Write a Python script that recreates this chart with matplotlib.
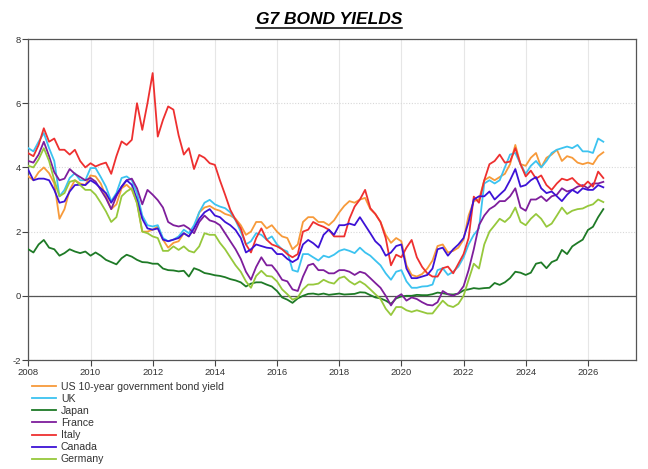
import matplotlib
matplotlib.use("Agg")
import matplotlib.pyplot as plt
import matplotlib.dates as mdates
from matplotlib.lines import Line2D
import pandas as pd
from datetime import datetime

plt.rcParams['font.family'] = ['Liberation Sans', 'DejaVu Sans']
plt.rcParams['axes.unicode_minus'] = False

# bi-monthly observations, Jan 2008 .. Jul 2026
dates = pd.date_range('2008-01-01', periods=112, freq='2MS')

us = [3.72, 3.6, 3.85, 4.0, 3.82, 3.5,
      2.4, 2.7, 3.3, 3.6, 3.5, 3.45,
      3.75, 3.72, 3.5, 3.1, 2.7, 2.85,
      3.35, 3.46, 3.3, 2.9, 2.0, 2.0,
      2.06, 2.16, 1.75, 1.5, 1.65, 1.7,
      1.95, 1.85, 2.1, 2.6, 2.75, 2.8,
      2.7, 2.65, 2.55, 2.5, 2.4, 2.2,
      1.9, 2.0, 2.3, 2.3, 2.1, 2.2,
      2.0, 1.85, 1.8, 1.45, 1.6, 2.3,
      2.45, 2.45, 2.3, 2.3, 2.2, 2.35,
      2.6, 2.8, 2.95, 2.9, 3.0, 3.05,
      2.7, 2.55, 2.3, 1.9, 1.65, 1.8,
      1.7, 0.95, 0.65, 0.6, 0.68, 0.85,
      1.1, 1.55, 1.6, 1.35, 1.4, 1.5,
      1.75, 2.5, 2.95, 3.0, 3.6, 3.7,
      3.6, 3.7, 3.8, 4.1, 4.7, 4.1,
      4.05, 4.3, 4.45, 4.0, 4.3, 4.4,
      4.55, 4.2, 4.35, 4.3, 4.15, 4.1,
      4.15, 4.1, 4.35, 4.47]

uk = [4.6, 4.5, 4.8, 5.07, 4.6, 4.2,
      3.1, 3.3, 3.67, 3.82, 3.6, 3.6,
      3.98, 3.98, 3.7, 3.4, 2.95, 3.2,
      3.67, 3.72, 3.6, 3.2, 2.5, 2.2,
      2.16, 2.2, 1.8, 1.7, 1.75, 1.85,
      2.06, 1.95, 2.2, 2.6, 2.9, 2.99,
      2.85, 2.78, 2.73, 2.6, 2.35, 2.0,
      1.6, 1.7, 1.95, 1.9, 1.75, 1.85,
      1.6, 1.45, 1.38, 0.8, 0.75, 1.3,
      1.3, 1.2, 1.1, 1.25, 1.2, 1.28,
      1.4, 1.45, 1.4, 1.33, 1.5, 1.35,
      1.25, 1.1, 0.95, 0.7, 0.5, 0.75,
      0.8, 0.45, 0.25, 0.25, 0.29, 0.3,
      0.35, 0.8, 0.86, 0.65, 0.75, 0.91,
      1.2, 1.6, 1.9, 2.1, 3.5, 3.6,
      3.5, 3.6, 4.0, 4.4, 4.45, 4.1,
      3.8, 4.05, 4.2, 4.0, 4.2, 4.45,
      4.55, 4.6, 4.65, 4.6, 4.7, 4.5,
      4.5, 4.45, 4.9, 4.8]

japan = [1.45, 1.35, 1.6, 1.74, 1.5, 1.45,
         1.25, 1.33, 1.45, 1.38, 1.33, 1.38,
         1.25, 1.35, 1.25, 1.12, 1.05, 0.98,
         1.17, 1.28, 1.22, 1.12, 1.05, 1.04,
         1.0, 1.0, 0.85, 0.8, 0.79, 0.76,
         0.78, 0.6, 0.86, 0.8, 0.71, 0.68,
         0.64, 0.62, 0.58, 0.52, 0.48, 0.42,
         0.29, 0.38, 0.42, 0.42, 0.35, 0.29,
         0.15, -0.05, -0.12, -0.22, -0.08, 0.0,
         0.06, 0.07, 0.04, 0.07, 0.03, 0.05,
         0.07, 0.04, 0.05, 0.06, 0.11, 0.1,
         0.02, -0.05, -0.08, -0.15, -0.25, -0.08,
         -0.02, 0.0, 0.0, 0.03, 0.02, 0.02,
         0.05, 0.1, 0.08, 0.05, 0.04, 0.07,
         0.17, 0.2, 0.24, 0.22, 0.24, 0.25,
         0.4, 0.34, 0.42, 0.55, 0.75, 0.72,
         0.65, 0.72, 1.0, 1.04, 0.86, 1.05,
         1.12, 1.43, 1.3, 1.54, 1.65, 1.75,
         2.05, 2.15, 2.45, 2.7]

france = [4.2, 4.15, 4.4, 4.8, 4.35, 3.85,
          3.6, 3.65, 3.95, 3.8, 3.7, 3.6,
          3.67, 3.56, 3.3, 3.04, 2.7, 3.1,
          3.4, 3.6, 3.65, 3.35, 2.85, 3.3,
          3.15, 2.98, 2.75, 2.3, 2.2, 2.16,
          2.2, 2.1, 1.95, 2.3, 2.5, 2.35,
          2.3, 2.2, 1.95, 1.7, 1.45, 1.15,
          0.75, 0.5, 0.9, 1.2, 0.95, 0.95,
          0.75, 0.5, 0.45, 0.2, 0.15, 0.6,
          0.95, 1.0, 0.8, 0.8, 0.7, 0.7,
          0.8, 0.8, 0.75, 0.65, 0.75, 0.7,
          0.55, 0.4, 0.25, 0.0, -0.3, -0.05,
          0.05, -0.15, -0.05, -0.1, -0.2, -0.28,
          -0.3, -0.2, 0.15, 0.05, 0.0, 0.08,
          0.3, 0.8, 1.45, 2.2, 2.5, 2.7,
          2.8, 2.95, 2.95, 3.1, 3.35, 2.75,
          2.65, 3.0, 3.0, 3.1, 2.95, 3.1,
          3.15, 3.35, 3.25, 3.3, 3.4, 3.45,
          3.35, 3.5, 3.5, 3.55]

italy = [4.44, 4.35, 4.7, 5.22, 4.8, 4.9,
         4.55, 4.55, 4.4, 4.55, 4.2, 4.0,
         4.13, 4.03, 4.1, 4.15, 3.8, 4.35,
         4.81, 4.7, 4.86, 6.0, 5.17, 6.0,
         6.94, 4.96, 5.48, 5.9, 5.8, 5.0,
         4.4, 4.6, 3.95, 4.39, 4.3, 4.13,
         4.08, 3.6, 3.15, 2.68, 2.37, 2.1,
         1.6, 1.35, 1.8, 2.1, 1.75, 1.6,
         1.54, 1.45, 1.3, 1.2, 1.3, 2.0,
         2.06, 2.3, 2.21, 2.15, 2.06, 1.85,
         1.85, 1.85, 2.4, 2.78, 3.0, 3.3,
         2.73, 2.55, 2.3, 1.8, 0.95, 1.28,
         1.2, 1.5, 1.74, 1.2, 0.9, 0.7,
         0.6, 0.6, 0.86, 0.91, 0.7, 1.0,
         1.3, 1.8, 3.09, 2.9, 3.6, 4.1,
         4.2, 4.4, 4.15, 4.18, 4.6, 4.1,
         3.72, 3.9, 3.65, 3.75, 3.45, 3.3,
         3.5, 3.65, 3.6, 3.67, 3.5, 3.4,
         3.56, 3.4, 3.87, 3.67]

canada = [3.92, 3.6, 3.65, 3.65, 3.6, 3.3,
          2.9, 2.94, 3.25, 3.45, 3.46, 3.45,
          3.6, 3.5, 3.35, 3.2, 2.9, 3.15,
          3.4, 3.6, 3.46, 3.0, 2.4, 2.1,
          2.06, 2.1, 1.75, 1.7, 1.75, 1.8,
          1.95, 1.85, 2.1, 2.4, 2.6, 2.7,
          2.5, 2.45, 2.3, 2.2, 2.05, 1.8,
          1.35, 1.45, 1.6, 1.55, 1.5, 1.48,
          1.3, 1.3, 1.15, 1.05, 1.15, 1.6,
          1.74, 1.64, 1.5, 1.9, 2.06, 1.9,
          2.2, 2.2, 2.25, 2.2, 2.45, 2.2,
          1.95, 1.7, 1.55, 1.25, 1.35, 1.55,
          1.6, 0.85, 0.55, 0.55, 0.6, 0.65,
          0.85, 1.45, 1.5, 1.25, 1.45, 1.6,
          1.8, 2.3, 3.0, 3.1, 3.1, 3.25,
          3.0, 3.15, 3.3, 3.6, 3.95, 3.4,
          3.45, 3.6, 3.7, 3.35, 3.2, 3.25,
          3.1, 2.95, 3.15, 3.3, 3.2, 3.35,
          3.3, 3.3, 3.45, 3.38]

germany = [4.05, 4.0, 4.25, 4.6, 4.2, 3.6,
           3.1, 3.2, 3.55, 3.6, 3.45, 3.3,
           3.3, 3.15, 2.9, 2.63, 2.3, 2.45,
           3.1, 3.25, 3.35, 2.88, 2.0, 1.95,
           1.85, 1.8, 1.4, 1.4, 1.54, 1.43,
           1.54, 1.4, 1.35, 1.54, 1.95, 1.9,
           1.9, 1.65, 1.45, 1.2, 0.95, 0.75,
           0.45, 0.25, 0.62, 0.78, 0.62, 0.6,
           0.45, 0.2, 0.05, -0.12, -0.05, 0.2,
           0.35, 0.35, 0.38, 0.5, 0.42, 0.38,
           0.55, 0.6, 0.45, 0.35, 0.45, 0.35,
           0.2, 0.05, -0.1, -0.4, -0.6, -0.35,
           -0.35, -0.45, -0.5, -0.45, -0.5, -0.55,
           -0.55, -0.35, -0.15, -0.3, -0.35, -0.25,
           0.0, 0.5, 1.0, 0.85, 1.6, 2.0,
           2.2, 2.4, 2.3, 2.45, 2.75, 2.3,
           2.2, 2.4, 2.55, 2.4, 2.15, 2.25,
           2.5, 2.75, 2.55, 2.65, 2.7, 2.72,
           2.8, 2.85, 3.0, 2.92]

series_names = ["US 10-year government bond yield", "UK", "Japan", "France",
                "Italy", "Canada", "Germany"]
series_values = [us, uk, japan, france, italy, canada, germany]
colors = ["#F79A3A", "#3CC3F0", "#1E7A26", "#7E1E9C", "#EE3030", "#3D12D6", "#96C83C"]

y_ticks = [-2, 0, 2, 4, 6, 8]
x_tick_years = list(range(2008, 2027, 2))

fig = plt.figure(figsize=(6.48, 4.69), dpi=100)
ax = fig.add_axes([0.0437, 0.2324, 0.9378, 0.6844])

for name, vals, c in zip(series_names, series_values, colors):
    ax.plot(dates, vals, color=c, lw=1.3, label=name, zorder=3)

ax.axhline(0, color="#555555", lw=0.9, zorder=2)
ax.set_ylim(-2, 8)
ax.set_xlim(datetime(2008, 1, 1), datetime(2027, 7, 20))
ax.set_yticks(y_ticks)
ax.set_xticks([datetime(y, 1, 1) for y in x_tick_years])
ax.xaxis.set_major_formatter(mdates.DateFormatter('%Y'))

ax.grid(axis='x', color="#e6e6e6", lw=0.8, linestyle='-', zorder=0)
ax.grid(axis='y', color="#d8d8d8", lw=0.8, linestyle=(0, (1, 1.5)), zorder=0)

for s in ax.spines.values():
    s.set_color("#555555")
    s.set_linewidth(0.9)
ax.tick_params(axis='both', labelsize=6.8, colors="#444444", length=4, width=0.8, pad=1.5)
for lab in ax.get_xticklabels() + ax.get_yticklabels():
    lab.set_color("#333333")

fig.legend(loc='upper left', bbox_to_anchor=(0.049, 0.186), frameon=False,
           fontsize=7.6, handlelength=2.3, handletextpad=0.45, labelspacing=0.2,
           borderpad=0, borderaxespad=0, labelcolor="#333333")

title = fig.text(0.508, 0.958, "G7 BOND YIELDS", ha='center', va='center',
                 fontsize=12.5, fontweight='bold', fontstyle='italic', color='black')
fig.canvas.draw()
bb = title.get_window_extent().transformed(fig.transFigure.inverted())
fig.add_artist(Line2D([bb.x0, bb.x1], [bb.y0 - 0.002, bb.y0 - 0.002],
                      transform=fig.transFigure, color='black', lw=1.1))

fig.savefig("out.png", dpi=100)
